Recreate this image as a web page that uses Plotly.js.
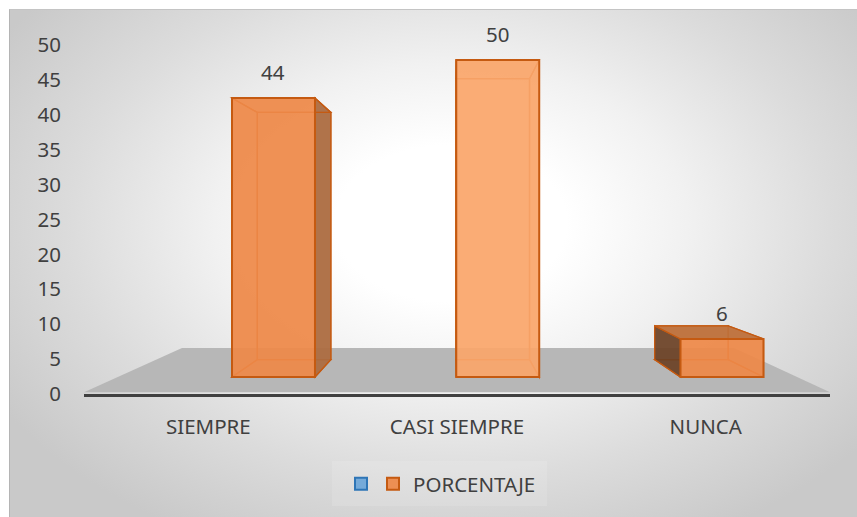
<!DOCTYPE html>
<html>
<head>
<meta charset="utf-8">
<script src="https://cdn.plot.ly/plotly-3.0.1.min.js"></script>
<style>
  html, body { margin: 0; padding: 0; background: #ffffff; }
  #wrap { position: relative; width: 857px; height: 517px; overflow: hidden; }
  #bg {
    position: absolute; left: 9px; top: 9px; width: 848px; height: 508px;
    border-left: 1px solid #b4b4b4; border-top: 1px solid #c4c4c4;
    background: radial-gradient(ellipse 62% 70% at 52% 42%, #ffffff 0%, #ffffff 22%, #f1f1f1 45%, #dcdcdc 72%, #c9c9c9 100%);
  }
  #chart { position: absolute; left: 0; top: 0; width: 857px; height: 517px; }
</style>
</head>
<body>
<div id="wrap">
  <div id="bg"></div>
  <div id="chart"></div>
</div>
<script>
// ---- data ----
const categories = ['SIEMPRE', 'CASI SIEMPRE', 'NUNCA'];
const porcentaje = [44, 50, 6];
const serieSinNombre = [null, null, null];
const seriesNames = ['', 'PORCENTAJE'];
const yTickValues = [0, 5, 10, 15, 20, 25, 30, 35, 40, 45, 50];

// ---- style / geometry ----
const FONT = 'Noto Sans, Open Sans, sans-serif';
const FS = 20.5;
const TXT = '#404040';
const EDGE = '#c55a11';
const BAR_W = 0.37;                 // bar width in x2 units
const VP = { x: 0.805, y: 24.13 };  // perspective centre in x2/y2 data units
const DEPTH = 0.886;                // back-face scale
const frontFill = ['rgba(238,137,72,0.93)', 'rgba(250,166,106,0.93)', 'rgba(238,137,72,0.93)'];
const idx = categories.map((c, i) => i);

function proj(p) { return [VP.x + DEPTH * (p[0] - VP.x), VP.y + DEPTH * (p[1] - VP.y)]; }
function path(pts) { return 'M ' + pts.map(p => p[0] + ',' + p[1]).join(' L ') + ' Z'; }

const shapes = [];
// floor (on visible axes)
shapes.push({
  type: 'path', xref: 'x', yref: 'y', layer: 'below',
  path: path([[-0.5, 0.25], [2.5, 0.25], [2.114, 6.6], [-0.106, 6.6]]),
  fillcolor: '#b7b7b7', line: { width: 0 }
});
// legend backdrop
shapes.push({
  type: 'rect', xref: 'paper', yref: 'paper', layer: 'below',
  x0: (332 - 84) / 746, x1: (547 - 84) / 746, y0: (394 - 506) / 349, y1: (394 - 461) / 349,
  fillcolor: 'rgba(255,255,255,0.12)', line: { width: 0 }
});

porcentaje.forEach((v, i) => {
  const xl = idx[i] - BAR_W / 2, xr = idx[i] + BAR_W / 2;
  const F = { lb: [xl, 0], rb: [xr, 0], rt: [xr, v], lt: [xl, v] };
  const B = { lb: proj(F.lb), rb: proj(F.rb), rt: proj(F.rt), lt: proj(F.lt) };
  const base = { type: 'path', xref: 'x2', yref: 'y2', layer: 'below' };
  const edge = { color: EDGE, width: 1.3 };
  // back face
  shapes.push(Object.assign({}, base, { path: path([B.lb, B.rb, B.rt, B.lt]), fillcolor: 'rgba(0,0,0,0)', line: edge }));
  // bottom face
  shapes.push(Object.assign({}, base, { path: path([F.lb, F.rb, B.rb, B.lb]), fillcolor: 'rgba(0,0,0,0)', line: edge }));
  // left side
  const leftVis = xl > VP.x;
  shapes.push(Object.assign({}, base, { path: path([F.lb, F.lt, B.lt, B.lb]),
    fillcolor: leftVis ? 'rgba(106,64,36,0.92)' : 'rgba(0,0,0,0)', line: edge }));
  // right side
  const rightVis = xr < VP.x;
  shapes.push(Object.assign({}, base, { path: path([F.rb, F.rt, B.rt, B.rb]),
    fillcolor: rightVis ? 'rgba(172,108,64,0.95)' : 'rgba(0,0,0,0)', line: edge }));
  // top face
  const topVis = v < VP.y;
  shapes.push(Object.assign({}, base, { path: path([F.lt, F.rt, B.rt, B.lt]),
    fillcolor: topVis ? 'rgba(190,112,58,0.95)' : 'rgba(0,0,0,0)', line: edge }));
});

const annotations = porcentaje.map((v, i) => ({
  xref: 'x2', yref: 'y2', x: idx[i], y: v, text: String(v),
  showarrow: false, yanchor: 'bottom', yshift: 10,
  font: { family: FONT, size: FS, color: TXT }
}));

const traces = [
  {
    type: 'bar', name: seriesNames[0], x: idx, y: serieSinNombre,
    xaxis: 'x', yaxis: 'y', legend: 'legend2',
    marker: { color: 'rgba(111,166,216,0.95)', line: { color: '#2e75b6', width: 2 } },
    hoverinfo: 'skip', showlegend: true
  },
  {
    type: 'bar', name: seriesNames[1], x: idx, y: porcentaje,
    xaxis: 'x2', yaxis: 'y2', legend: 'legend', width: BAR_W,
    marker: { color: frontFill, line: { color: EDGE, width: 2 } },
    hoverinfo: 'skip', showlegend: true, cliponaxis: false
  }
];

const layout = {
  width: 857, height: 517,
  margin: { l: 84, r: 27, t: 45, b: 123, pad: 0 },
  paper_bgcolor: 'rgba(0,0,0,0)', plot_bgcolor: 'rgba(0,0,0,0)',
  font: { family: FONT, size: FS, color: TXT },
  showlegend: true,
  barmode: 'overlay',
  xaxis: {
    type: 'linear', range: [-0.5, 2.5], tickmode: 'array', tickvals: idx, ticktext: categories,
    showgrid: false, zeroline: false, showline: true, linecolor: '#404040', linewidth: 3,
    ticks: 'outside', ticklen: 12, tickcolor: 'rgba(0,0,0,0)',
    tickfont: { family: FONT, size: FS, color: TXT }, fixedrange: true
  },
  xaxis2: { type: 'linear', overlaying: 'x', range: [-0.845, 2.4816], visible: false, fixedrange: true },
  yaxis: {
    type: 'linear', range: [0, 50], tickmode: 'array', tickvals: yTickValues,
    showgrid: false, zeroline: false, showline: false,
    ticks: 'outside', ticklen: 18, tickcolor: 'rgba(0,0,0,0)',
    tickfont: { family: FONT, size: FS, color: TXT }, fixedrange: true
  },
  yaxis2: { type: 'linear', overlaying: 'y', range: [-2.681, 52.366], visible: false, fixedrange: true },
  legend: {
    orientation: 'h', x: (373 - 84) / 746, xanchor: 'left', y: (394 - 484) / 349, yanchor: 'middle',
    bgcolor: 'rgba(0,0,0,0)', borderwidth: 0, font: { family: FONT, size: FS, color: TXT }
  },
  legend2: {
    orientation: 'h', x: (341 - 84) / 746, xanchor: 'left', y: (394 - 484) / 349, yanchor: 'middle',
    bgcolor: 'rgba(0,0,0,0)', borderwidth: 0, font: { family: FONT, size: FS, color: TXT }
  },
  shapes: shapes,
  annotations: annotations
};

Plotly.newPlot('chart', traces, layout, { displayModeBar: false, staticPlot: true });
</script>
</body>
</html>
